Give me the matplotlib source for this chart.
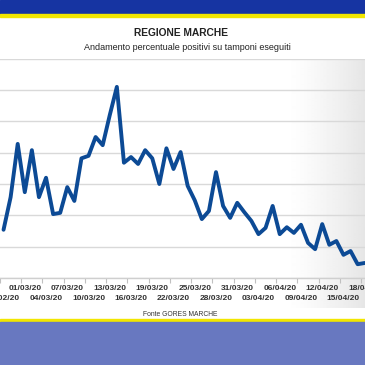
import numpy as np
import pandas as pd
import matplotlib
matplotlib.use("Agg")
import matplotlib.pyplot as plt
from matplotlib.patches import Rectangle

# ---- data ----
dates = pd.date_range("2020-02-27", "2020-04-18", freq="D")
positivity = [7.7, 12.9, 21.4, 13.7, 20.4, 12.9, 16.0, 10.2, 10.4, 14.5,
              12.3, 19.1, 19.5, 22.5, 21.2, 26.0, 30.5, 18.4, 19.3, 18.2,
              20.4, 19.1, 15.0, 20.7, 17.4, 20.1, 14.7, 12.4, 9.4, 10.7,
              16.9, 11.5, 9.6, 12.0, 10.5, 9.1, 7.0, 8.0, 11.5, 7.0,
              8.1, 7.2, 8.5, 5.6, 4.6, 8.6, 5.3, 5.9, 3.7, 4.3, 2.2, 2.4]
title = "REGIONE MARCHE"
subtitle = "Andamento percentuale positivi su tamponi eseguiti"
source = "Fonte GORES MARCHE"
label_step = 3

W = H = 365.0
def fy(py):
    return 1 - py / H

fig = plt.figure(figsize=(3.65, 3.65), dpi=100)
fig.patch.set_facecolor("white")

# bands
fig.patches.append(Rectangle((0, fy(14)), 1, 14 / H, transform=fig.transFigure,
                             color="#1634a2", zorder=0))
fig.patches.append(Rectangle((0, fy(16.5)), 1, 2.5 / H, transform=fig.transFigure,
                             color="#f2e600", zorder=0))
fig.patches.append(Rectangle((0, fy(321.5)), 1, 2.5 / H, transform=fig.transFigure,
                             color="#f2e600", zorder=0))
fig.patches.append(Rectangle((0, 0), 1, (H - 321.5) / H, transform=fig.transFigure,
                             color="#6878c0", zorder=0))

# gradient background
bg = fig.add_axes([0, fy(308), 1, (308 - 58.5) / H], zorder=-1)
bg.axis("off")
xp = np.arange(365)
v = np.clip((xp - 285) / 80.0, 0, 1) ** 1.3
grad = (1 - 0.1 * v)[None, :]
bg.imshow(grad, cmap="gray", vmin=0, vmax=1, aspect="auto", interpolation="bilinear")

# main axes
ax = fig.add_axes([0, fy(278), 1, (278 - 58.7) / H], zorder=1)
ax.set_facecolor("none")
x = np.arange(len(positivity))
ax.plot(x, positivity, color="#0c4a95", lw=2.8, solid_joinstyle="round",
        solid_capstyle="round", zorder=3)
ax.set_xlim(-0.084, 51.04)
ax.set_ylim(0, 35)
ax.set_yticks(np.arange(0, 36, 5))
ax.yaxis.grid(True, color="#d9d9d9", lw=1.0)
ax.set_axisbelow(True)
ax.tick_params(axis="y", left=False, labelleft=False)
for s in ["left", "right", "top"]:
    ax.spines[s].set_visible(False)
ax.spines["bottom"].set_color("#cfcfcf")
ax.spines["bottom"].set_linewidth(1.0)

pos = list(range(0, len(dates), label_step))
lab = [dates[i].strftime("%d/%m/%y") for i in pos]
upper_pos = pos[1::2]
upper_lab = lab[1::2]
lower_pos = pos[0::2]
lower_lab = lab[0::2]

tick_font = dict(fontsize=6.0, fontweight="bold", family="Liberation Sans",
                 color="#333333")

ax.set_xticks(upper_pos)
ax.set_xticklabels(upper_lab, **tick_font)
ax.tick_params(axis="x", which="major", length=0, pad=5.0)
ax.set_xticks([p - 0.5 for p in pos], minor=True)
ax.tick_params(axis="x", which="minor", length=3.5, width=0.8, color="#c0c0c0")

sec = ax.secondary_xaxis("bottom")
sec.spines["bottom"].set_visible(False)
sec.set_xticks(lower_pos)
sec.set_xticklabels(lower_lab, **tick_font)
sec.tick_params(axis="x", length=0, pad=12.0)

fig.text(181 / W, fy(33), title, ha="center", va="center", fontsize=7.4,
         fontweight="bold", family="Liberation Sans", color="#222222")
fig.text(187 / W, fy(47), subtitle, ha="center", va="center", fontsize=6.5,
         family="Liberation Sans", color="#222222")
fig.text(180 / W, fy(314), source, ha="center", va="center", fontsize=4.9,
         family="Liberation Sans", color="#333333")

fig.savefig("out.png", dpi=100)
